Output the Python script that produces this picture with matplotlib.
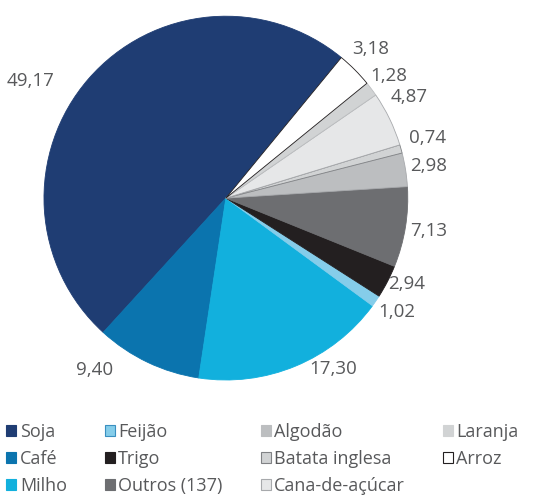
import numpy as np
import matplotlib.pyplot as plt
from matplotlib.patches import Patch

# dados (%)
categorias = ['Soja', 'Café', 'Milho', 'Feijão', 'Trigo', 'Outros (137)',
              'Algodão', 'Batata inglesa', 'Cana-de-açúcar', 'Laranja', 'Arroz']
valores = [49.17, 9.40, 17.30, 1.02, 2.94, 7.13, 2.98, 0.74, 4.87, 1.28, 3.18]
rotulos = ['49,17', '9,40', '17,30', '1,02', '2,94', '7,13',
           '2,98', '0,74', '4,87', '1,28', '3,18']

cores = ['#1f3d73', '#0b74ae', '#12b0dd', '#85cdea', '#231f20', '#6d6e71',
         '#bcbec0', '#d1d3d4', '#e6e7e8', '#d1d3d4', '#ffffff']
bordas = ['#1f3d73', '#0b74ae', '#12b0dd', '#85cdea', '#231f20', '#6d6e71',
          '#a7a9ac', '#808285', '#a7a9ac', '#bcbec0', '#231f20']
leg_bordas = ['#1f3d73', '#0b74ae', '#12b0dd', '#3a8fc0', '#231f20', '#6d6e71',
              '#bcbec0', '#808285', '#a7a9ac', '#d1d3d4', '#231f20']

# posição dos rótulos: desvio angular (graus) e distância relativa ao raio
desvio = [10, -12, 9.4, 0.7, 2, 0, 0, 1, 3, 0, 1.0]
dist = [1.25, 1.19, 1.11, 1.13, 1.10, 1.13, 1.13, 1.16, 1.15, 1.12, 1.14]

COR_TEXTO = '#58595b'
plt.rcParams['font.family'] = ['Open Sans', 'DejaVu Sans']

fig = plt.figure(figsize=(5.35, 4.95), dpi=100)
ax = fig.add_axes([0.0822, 0.2323, 0.680, 0.735])

inicio = 50.6
wedges, _ = ax.pie(valores, colors=cores, startangle=inicio, counterclock=True,
                   wedgeprops=dict(linewidth=0.6))
for w, b in zip(wedges, bordas):
    w.set_edgecolor(b)
ax.set_xlim(-1, 1)
ax.set_ylim(-1, 1)
ax.set_aspect('equal')
ax.axis('off')

for w, txt, d, r in zip(wedges, rotulos, desvio, dist):
    ang = np.deg2rad((w.theta1 + w.theta2) / 2 + d)
    ax.text(r * np.cos(ang), r * np.sin(ang), txt, ha='center', va='center',
            fontsize=13.5, color=COR_TEXTO, clip_on=False)

# legenda (ordem por coluna)
handles = [Patch(facecolor=c, edgecolor=e, linewidth=0.8)
           for c, e in zip(cores, leg_bordas)]
fig.legend(handles, categorias, ncol=4, loc='upper left',
           bbox_to_anchor=(0.005, 0.153), frameon=False,
           fontsize=13, labelcolor=COR_TEXTO,
           handlelength=0.55, handleheight=0.55, handletextpad=0.2,
           columnspacing=2.1, labelspacing=0.5, borderaxespad=0,
           borderpad=0.2)

fig.savefig('out.png', dpi=100)
